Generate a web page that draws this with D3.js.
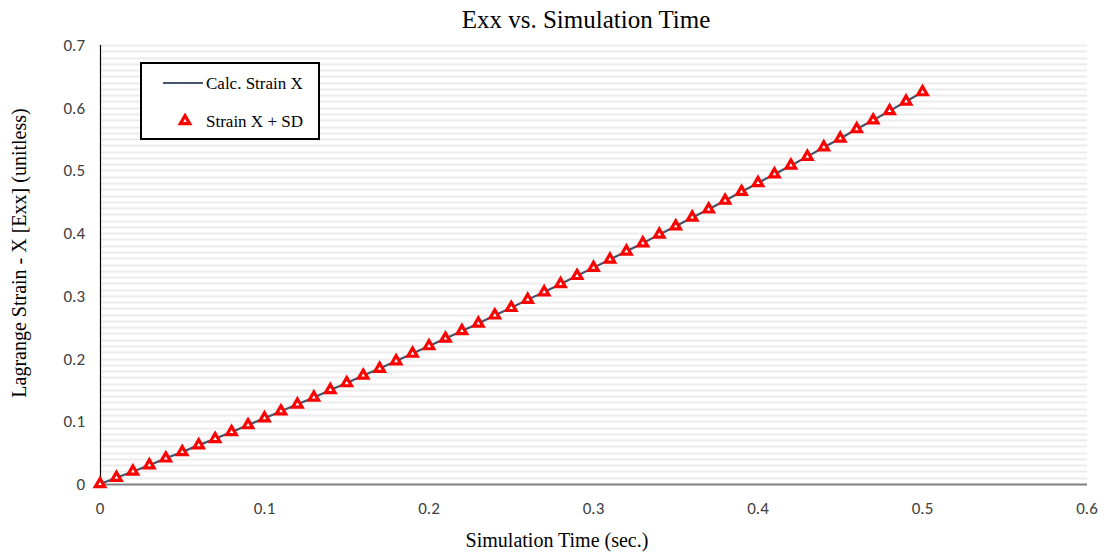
<!DOCTYPE html>
<html>
<head>
<meta charset="utf-8">
<script src="https://cdn.jsdelivr.net/npm/d3@7"></script>
<style>
  body { margin: 0; background: #fff; }
  svg { display: block; }
</style>
</head>
<body>
<svg id="chart" width="1106" height="555"></svg>
<script>
'use strict'

// simulation time (sec.)
var times = [0, 0.01, 0.02, 0.03, 0.04, 0.05, 0.06, 0.07, 0.08, 0.09,
  0.10, 0.11, 0.12, 0.13, 0.14, 0.15, 0.16, 0.17, 0.18, 0.19,
  0.20, 0.21, 0.22, 0.23, 0.24, 0.25, 0.26, 0.27, 0.28, 0.29,
  0.30, 0.31, 0.32, 0.33, 0.34, 0.35, 0.36, 0.37, 0.38, 0.39,
  0.40, 0.41, 0.42, 0.43, 0.44, 0.45, 0.46, 0.47, 0.48, 0.49, 0.50]

// Lagrange strain Exx
var strainX = [0, 0.010, 0.020, 0.030, 0.041, 0.051, 0.062, 0.072, 0.083, 0.094,
  0.105, 0.116, 0.127, 0.138, 0.150, 0.161, 0.173, 0.184, 0.196, 0.208,
  0.220, 0.232, 0.244, 0.256, 0.269, 0.281, 0.294, 0.306, 0.319, 0.332,
  0.345, 0.358, 0.371, 0.384, 0.398, 0.411, 0.425, 0.438, 0.452, 0.466,
  0.480, 0.494, 0.508, 0.522, 0.537, 0.551, 0.566, 0.580, 0.595, 0.610, 0.625]

var xTicks = [0, 0.1, 0.2, 0.3, 0.4, 0.5, 0.6]
var yTicks = [0, 0.1, 0.2, 0.3, 0.4, 0.5, 0.6, 0.7]
var seriesNames = ['Calc. Strain X', 'Strain X + SD']

var svg = d3.select('#chart')
var plotLeft = 100
var plotRight = 1087
var plotTop = 45
var plotBottom = 484

var x = d3.scaleLinear().domain([0, 0.6]).range([plotLeft, plotRight])
var y = d3.scaleLinear().domain([0, 0.7]).range([plotBottom, plotTop])

var serif = '"Liberation Serif", "Times New Roman", serif'
var sans = 'Carlito, "Open Sans", "Liberation Sans", sans-serif'

// minor horizontal gridlines every 0.01
svg.append('g')
  .selectAll('line')
  .data(d3.range(1, 71).map((i) => i / 100))
  .enter().append('line')
    .attr('x1', plotLeft)
    .attr('x2', plotRight)
    .attr('y1', (d) => Math.round(y(d)) + 0.5)
    .attr('y2', (d) => Math.round(y(d)) + 0.5)
    .attr('stroke', '#ececec')
    .attr('stroke-width', 2)

// x axis line
svg.append('line')
  .attr('x1', plotLeft).attr('x2', plotRight)
  .attr('y1', plotBottom + 0.5).attr('y2', plotBottom + 0.5)
  .attr('stroke', '#808080')
  .attr('stroke-width', 2)

// y axis line
svg.append('line')
  .attr('x1', plotLeft + 0.5).attr('x2', plotLeft + 0.5)
  .attr('y1', plotTop).attr('y2', plotBottom)
  .attr('stroke', '#000')
  .attr('stroke-width', 1.2)

// tick labels
svg.append('g')
  .selectAll('text')
  .data(yTicks)
  .enter().append('text')
    .attr('x', 85)
    .attr('y', (d) => y(d) + 6)
    .attr('text-anchor', 'end')
    .attr('font-family', sans)
    .attr('font-size', 17)
    .attr('fill', '#404040')
    .text((d) => d3.format('~g')(d))

svg.append('g')
  .selectAll('text')
  .data(xTicks)
  .enter().append('text')
    .attr('x', (d) => x(d))
    .attr('y', 514)
    .attr('text-anchor', 'middle')
    .attr('font-family', sans)
    .attr('font-size', 17)
    .attr('fill', '#404040')
    .text((d) => d3.format('~g')(d))

// series line
var line = d3.line()
  .x((d, i) => x(times[i]))
  .y((d) => y(d))

svg.append('path')
  .datum(strainX)
  .attr('d', line)
  .attr('fill', 'none')
  .attr('stroke', '#44546a')
  .attr('stroke-width', 2.2)

// triangle markers
var tri = d3.symbol().type(d3.symbolTriangle).size(38)

svg.append('g')
  .selectAll('path')
  .data(strainX)
  .enter().append('path')
    .attr('d', tri)
    .attr('transform', (d, i) => 'translate(' + x(times[i]) + ',' + y(d) + ')')
    .attr('fill', '#fff')
    .attr('stroke', '#ff0000')
    .attr('stroke-width', 3.2)

// titles
svg.append('text')
  .attr('x', 586)
  .attr('y', 28)
  .attr('text-anchor', 'middle')
  .attr('font-family', serif)
  .attr('font-size', 25)
  .attr('fill', '#000')
  .text('Exx vs. Simulation Time')

svg.append('text')
  .attr('x', 557)
  .attr('y', 547)
  .attr('text-anchor', 'middle')
  .attr('font-family', serif)
  .attr('font-size', 20)
  .attr('fill', '#000')
  .text('Simulation Time (sec.)')

svg.append('text')
  .attr('transform', 'translate(26,253) rotate(-90)')
  .attr('text-anchor', 'middle')
  .attr('font-family', serif)
  .attr('font-size', 20)
  .attr('fill', '#000')
  .text('Lagrange Strain - X [Exx] (unitless)')

// legend
var legend = svg.append('g')

legend.append('rect')
  .attr('x', 141).attr('y', 63)
  .attr('width', 178).attr('height', 76)
  .attr('fill', '#fff')
  .attr('stroke', '#000')
  .attr('stroke-width', 2)

legend.append('line')
  .attr('x1', 163).attr('x2', 203)
  .attr('y1', 83).attr('y2', 83)
  .attr('stroke', '#44546a')
  .attr('stroke-width', 2)

legend.append('path')
  .attr('d', tri)
  .attr('transform', 'translate(185,121)')
  .attr('fill', '#fff')
  .attr('stroke', '#ff0000')
  .attr('stroke-width', 3.2)

legend.selectAll('text')
  .data(seriesNames)
  .enter().append('text')
    .attr('x', 206)
    .attr('y', (d, i) => 89 + i * 38)
    .attr('font-family', serif)
    .attr('font-size', 17)
    .attr('fill', '#000')
    .text((d) => d)
</script>
</body>
</html>
